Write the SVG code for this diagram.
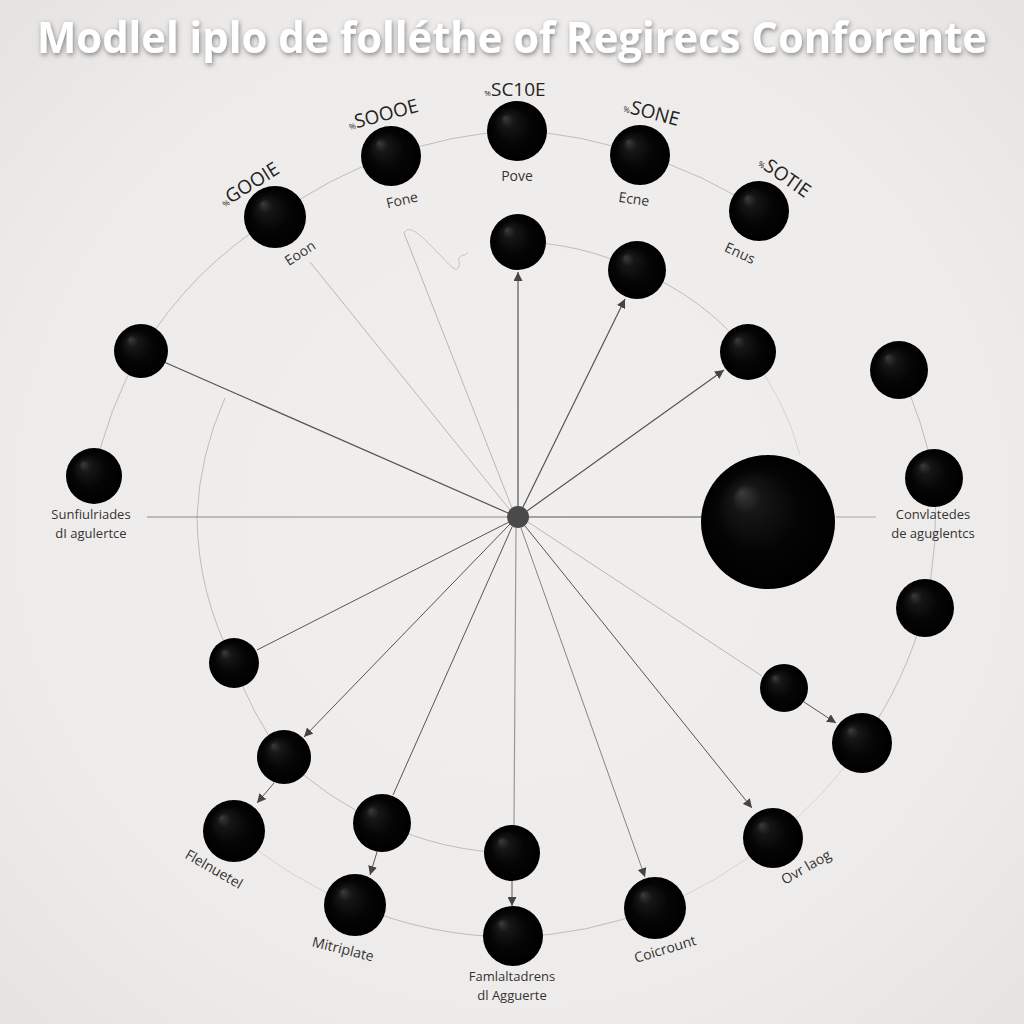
<svg xmlns="http://www.w3.org/2000/svg" width="1024" height="1024" viewBox="0 0 1024 1024">
<defs>
<radialGradient id="bg" cx="50%" cy="50%" r="70%">
<stop offset="0" stop-color="#f1efed"/>
<stop offset="0.7" stop-color="#eeecea"/>
<stop offset="1" stop-color="#e6e4e2"/>
</radialGradient>
<radialGradient id="ball" cx="50%" cy="50%" r="50%" fx="30%" fy="28%">
<stop offset="0" stop-color="#3c3c3c"/>
<stop offset="0.22" stop-color="#161616"/>
<stop offset="0.6" stop-color="#050505"/>
<stop offset="1" stop-color="#000"/>
</radialGradient>
<marker id="arr" viewBox="0 0 10 10" refX="10" refY="5" markerWidth="9" markerHeight="9" markerUnits="userSpaceOnUse" orient="auto">
<path d="M0,0 L10,5 L0,10 z" fill="#444"/>
</marker>
<filter id="shadow" x="-5%" y="-30%" width="110%" height="160%">
<feDropShadow dx="1" dy="2" stdDeviation="2.5" flood-color="#555" flood-opacity="0.7"/>
</filter>
</defs>
<style>
.ball{fill:url(#ball)}
.hub{fill:#4a4a4a}
.ring{fill:none;stroke:#bdbdbd;stroke-width:1}
.faint{fill:none;stroke:#d0d0d0;stroke-width:0.9}
.dk{stroke:#555;stroke-width:1.2;fill:none}
.md{stroke:#888;stroke-width:1;fill:none}
.lt{stroke:#a8a8a8;stroke-width:0.8;fill:none}
.ar{marker-end:url(#arr)}
.lbl{font-family:"Open Sans","Liberation Sans",sans-serif;font-size:14px;fill:#333;text-anchor:middle}
.two{font-size:13px}
.top{font-family:"Open Sans","Liberation Sans",sans-serif;font-size:19px;fill:#222;text-anchor:middle}
.pre{font-size:8px}
.title{font-family:"Open Sans","Liberation Sans",sans-serif;font-weight:bold;font-size:43px;fill:#ffffff}
</style>
<rect width="1024" height="1024" fill="url(#bg)"/>
<text class="title" x="37" y="53" textLength="950" lengthAdjust="spacingAndGlyphs" filter="url(#shadow)">Modlel iplo de folléthe of Regirecs Conforente</text>

<g id="rings">
<path class="ring" d="M94,476 A410,410 0 0 1 141,351 A410,410 0 0 1 275,217 A400,400 0 0 1 391,156 A400,400 0 0 1 517,131 A400,400 0 0 1 640,155 A400,400 0 0 1 759,211"/>
<path class="ring" d="M899,370 A415,415 0 0 1 934,478 A415,415 0 0 1 925,608 A415,415 0 0 1 862,743"/>
<path class="faint" d="M862,743 A410,410 0 0 1 773,838 A410,410 0 0 1 655,908"/>
<path class="ring" d="M655,908 A410,410 0 0 1 513,937 A410,410 0 0 1 355,905"/>
<path class="faint" d="M355,905 A410,410 0 0 1 234,831"/>
<path class="ring" d="M518,242 A280,280 0 0 1 637,270 A280,280 0 0 1 748,352"/>
<path class="faint" d="M748,352 A280,280 0 0 1 800,455"/>
<path class="ring" d="M225,398 A322,322 0 0 0 197,517 A322,322 0 0 0 234,663 A322,322 0 0 0 284,757 A322,322 0 0 0 382,823 A322,322 0 0 0 512,853"/>
</g>

<g id="connectors">
<line class="md" x1="147" y1="517" x2="508" y2="517" stroke="#aaa"/>
<line class="md" x1="529" y1="517" x2="702" y2="517" style="stroke:#888;stroke-width:1.5"/>
<line class="lt" x1="836" y1="517" x2="876" y2="517" style="stroke-width:1.2"/>
<line class="dk ar" x1="518" y1="506" x2="518" y2="272"/>
<line class="dk ar" x1="523" y1="507" x2="625" y2="299"/>
<line class="dk ar" x1="527" y1="511" x2="724" y2="370"/>
<line class="dk" x1="508" y1="513" x2="164" y2="362"/>
<line class="lt" x1="510" y1="510" x2="310" y2="262"/>
<line class="lt" x1="512" y1="508" x2="404" y2="233"/>
<path class="lt" d="M404,233 C410,222 425,240 440,255 C450,265 455,272 458,268 C462,262 456,260 460,257 C463,254 466,256 468,252" style="stroke-width:0.6"/>
<line class="dk" x1="509" y1="522" x2="257" y2="650" style="stroke-width:1"/>
<line class="dk ar" x1="510" y1="524" x2="304" y2="737" style="stroke-width:1"/>
<line class="dk" x1="512" y1="527" x2="393" y2="795" style="stroke-width:1"/>
<line class="md" x1="516" y1="528" x2="514" y2="826" style="stroke:#999;stroke-width:1.2"/>
<line class="lt" x1="528" y1="522" x2="762" y2="676"/>
<line class="dk ar" x1="525" y1="526" x2="752" y2="808" style="stroke-width:1"/>
<line class="md ar" x1="521" y1="528" x2="645" y2="877" style="stroke:#777;stroke-width:0.9"/>
<line class="dk ar" x1="804" y1="702" x2="836" y2="723" style="stroke-width:1"/>
<line class="dk ar" x1="274" y1="783" x2="257" y2="803" style="stroke-width:1"/>
<line class="dk ar" x1="377" y1="852" x2="370" y2="875" style="stroke-width:1"/>
<line class="dk ar" x1="512" y1="881" x2="512" y2="906" style="stroke-width:1"/>
</g>

<g id="hub"><circle class="hub" cx="518" cy="517" r="11"/></g>

<g id="n-gooie">
<circle class="ball" cx="275" cy="217" r="31"/>
<text class="top" transform="translate(249,184) rotate(-32)" dy="7"><tspan class="pre">%</tspan>GOOIE</text>
<text class="lbl" transform="translate(300,253) rotate(-33)" dy="5">Eoon</text>
</g>
<g id="n-soooe">
<circle class="ball" cx="391" cy="156" r="30"/>
<text class="top" transform="translate(383,114) rotate(-15)" dy="7"><tspan class="pre">%</tspan>SOOOE</text>
<text class="lbl" transform="translate(402,200) rotate(-13)" dy="5">Fone</text>
</g>
<g id="n-sc10e">
<circle class="ball" cx="517" cy="131" r="30"/>
<text class="top" x="515" y="96"><tspan class="pre">%</tspan>SC10E</text>
<text class="lbl" x="517" y="181">Pove</text>
</g>
<g id="n-sone">
<circle class="ball" cx="640" cy="155" r="30"/>
<text class="top" transform="translate(652,112) rotate(15)" dy="7"><tspan class="pre">%</tspan>SONE</text>
<text class="lbl" transform="translate(634,199) rotate(8)" dy="5">Ecne</text>
</g>
<g id="n-sotie">
<circle class="ball" cx="759" cy="211" r="30"/>
<text class="top" transform="translate(785,176) rotate(35)" dy="7"><tspan class="pre">%</tspan>SOTIE</text>
<text class="lbl" transform="translate(740,253) rotate(25)" dy="5">Enus</text>
</g>
<g id="n-left1"><circle class="ball" cx="141" cy="351" r="27"/></g>
<g id="n-sunfiulriades">
<circle class="ball" cx="94" cy="476" r="28"/>
<text class="lbl two" x="91" y="519">Sunfiulriades</text>
<text class="lbl two" x="91" y="538">dI agulertce</text>
</g>
<g id="n-right1"><circle class="ball" cx="899" cy="370" r="29"/></g>
<g id="n-convlatedes">
<circle class="ball" cx="934" cy="478" r="29"/>
<text class="lbl two" x="933" y="519">Convlatedes</text>
<text class="lbl two" x="933" y="538">de aguglentcs</text>
</g>
<g id="n-right2"><circle class="ball" cx="925" cy="608" r="29"/></g>
<g id="n-right3"><circle class="ball" cx="862" cy="743" r="30"/></g>
<g id="n-ovrlaog">
<circle class="ball" cx="773" cy="838" r="30"/>
<text class="lbl" transform="translate(806,867) rotate(-30)" dy="5">Ovr laog</text>
</g>
<g id="n-coicrount">
<circle class="ball" cx="655" cy="908" r="31"/>
<text class="lbl" transform="translate(665,949) rotate(-17)" dy="5">Coicrount</text>
</g>
<g id="n-famlaltadrens">
<circle class="ball" cx="513" cy="936" r="30"/>
<text class="lbl two" x="512" y="981">Famlaltadrens</text>
<text class="lbl two" x="512" y="1000">dl Agguerte</text>
</g>
<g id="n-mitriplate">
<circle class="ball" cx="355" cy="905" r="31"/>
<text class="lbl" transform="translate(343,949) rotate(14)" dy="5">Mitriplate</text>
</g>
<g id="n-flelnuetel">
<circle class="ball" cx="234" cy="831" r="31"/>
<text class="lbl" transform="translate(214,869) rotate(30)" dy="5">Flelnuetel</text>
</g>

<g id="i-top"><circle class="ball" cx="518" cy="242" r="28"/></g>
<g id="i-topright"><circle class="ball" cx="637" cy="270" r="29"/></g>
<g id="i-right"><circle class="ball" cx="748" cy="352" r="28"/></g>
<g id="i-big"><circle class="ball" cx="768" cy="522" r="67"/></g>
<g id="i-lowright"><circle class="ball" cx="784" cy="688" r="24"/></g>
<g id="i-left"><circle class="ball" cx="234" cy="663" r="25"/></g>
<g id="i-lowleft"><circle class="ball" cx="284" cy="757" r="27"/></g>
<g id="i-bottomleft"><circle class="ball" cx="382" cy="823" r="29"/></g>
<g id="i-bottom"><circle class="ball" cx="512" cy="853" r="28"/></g>
</svg>
